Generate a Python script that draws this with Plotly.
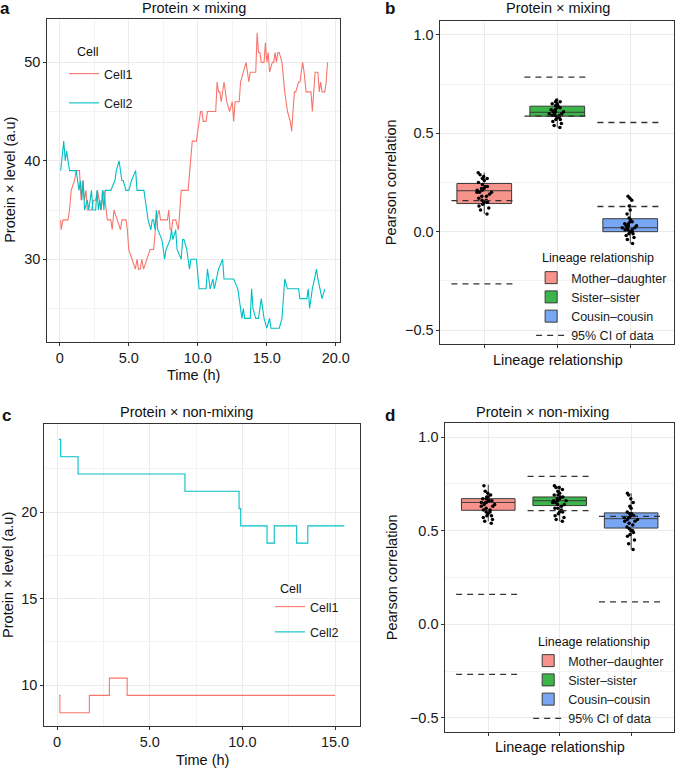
import plotly.graph_objects as go

# ---- panel a: Protein x mixing, time series ----
a_cell1_t = [0.07, 0.1, 0.24, 0.6, 0.71, 0.83, 1.07, 1.19, 1.43, 1.55, 1.67, 1.79, 1.9, 2.0, 2.3, 2.45, 2.6,
             2.74, 2.98, 3.2, 3.45, 3.7, 3.8, 3.93, 4.17, 4.4, 4.5, 4.8, 4.9, 5.0, 5.24, 5.48, 5.6, 5.7, 5.83,
             5.95, 6.07, 6.3, 6.55, 6.8, 6.9, 7.0, 7.2, 7.3, 7.8, 7.9, 8.0, 8.1, 8.2, 8.4, 8.6, 8.7, 8.8, 9.3,
             9.4, 9.5, 9.6, 9.9, 10.1, 10.2, 10.3, 10.4, 10.6, 10.7, 11.3, 11.4, 11.5, 11.6, 11.7, 11.8, 11.9,
             12.1, 12.3, 12.5, 12.6, 12.7, 13.0, 13.1, 13.3, 13.45, 13.5, 13.7, 13.8, 14.2, 14.3, 14.4, 14.5,
             14.6, 14.8, 14.9, 15.0, 15.1, 15.2, 15.4, 15.5, 15.6, 15.7, 15.8, 15.9, 16.1, 16.2, 16.3, 16.4,
             16.5, 16.7, 16.8, 16.9, 17.0, 17.1, 17.3, 17.4, 17.5, 17.6, 17.7, 17.85, 18.2, 18.3, 18.4, 18.5,
             18.7, 18.8, 18.9, 19.0, 19.2, 19.3, 19.4]
a_cell1_v = [34, 33, 34, 34, 35, 37, 38, 39, 39, 36, 38, 36, 37, 35, 35, 36, 36,
             37, 35, 37, 34, 34, 33, 35, 34, 33, 34, 34, 33, 31, 30, 29, 30, 29, 29,
             30, 29, 30, 31, 31, 33, 34, 35, 34, 34, 35, 33, 33, 34, 34, 33, 35, 37, 37,
             39, 40, 42, 42, 44, 45, 45, 44, 44, 45, 45, 48, 47, 47, 46, 47, 48,
             46, 45, 46, 44, 46, 46, 48, 49, 50, 50, 48, 49, 49, 53, 51, 51,
             50, 50, 52, 50, 51, 49, 50, 50, 51, 50, 51, 51, 50, 48, 47, 46,
             45, 44, 43, 45, 47, 47, 48, 48, 49, 50, 49, 47, 47, 45, 47, 49,
             49, 47, 48, 47, 47, 48, 50]
a_cell2_t = [0.07, 0.29, 0.4, 0.5, 0.6, 0.71, 1.19, 1.3, 1.4, 1.5, 1.6, 1.7, 1.8, 2.0, 2.1, 2.3, 2.4, 2.6,
             2.7, 2.8, 2.9, 3.0, 3.1, 3.2, 3.3, 3.45, 3.7, 4.0, 4.1, 4.3, 4.4, 4.5, 4.6, 4.8, 5.0, 5.2, 5.5,
             5.6, 6.1, 6.2, 6.4, 6.6, 6.7, 6.8, 6.9, 7.0, 7.1, 7.4, 7.6, 7.7, 8.0, 8.1, 8.2, 8.4, 8.5, 8.8,
             8.9, 9.0, 9.2, 9.3, 9.4, 9.5, 9.9, 10.1, 10.6, 10.7, 10.9, 11.1, 11.2, 11.5, 11.8, 11.9, 12.6,
             12.9, 13.0, 13.2, 13.3, 13.4, 13.8, 13.9, 14.0, 14.2, 14.4, 14.6, 14.8, 15.0, 15.2, 15.3, 15.9,
             16.1, 16.3, 16.5, 17.3, 17.4, 17.9, 18.0, 18.1, 18.3, 18.6, 18.7, 19.0, 19.2]
a_cell2_v = [39, 42, 40, 41, 40, 39, 39, 38, 37, 38, 36, 38, 35, 36, 35, 37, 35, 35,
             37, 35, 36, 35, 37, 35, 37, 37, 37, 38, 39, 40, 39, 38, 38, 37, 37, 38, 39,
             37, 37, 36, 34, 33, 34, 34, 33, 35, 33, 32, 30, 31, 32, 33, 32, 33, 31, 30,
             32, 32, 31, 30, 29, 30, 30, 27, 27, 29, 27, 28, 27, 29, 30, 28, 28,
             27, 26, 24, 25, 24, 24, 27, 25, 24, 24, 26, 24, 23, 24, 23, 23,
             24, 28, 27, 27, 26, 26, 27, 25, 27, 29, 28, 26, 27]

# ---- panel c: Protein x non-mixing, time series (change points) ----
c_cell1_t = [0.1, 0.15, 1.74, 2.82, 3.78, 15.0]
c_cell1_v = [9.4, 8.4, 9.4, 10.4, 9.4, 9.4]
c_cell2_t = [0.1, 0.19, 1.13, 6.9, 9.82, 9.91, 11.33, 11.72, 12.93, 13.53, 15.5]
c_cell2_v = [24.2, 23.2, 22.2, 21.2, 20.2, 19.2, 18.2, 19.2, 18.2, 19.2, 19.2]

# ---- panels b / d: Pearson correlation by lineage relationship ----
groups = ["Mother–daughter", "Sister–sister", "Cousin–cousin"]
group_fill = ["#F8938B", "#3CB54B", "#79A6F2"]

b_q1 = [0.143, 0.587, 0.0]
b_median = [0.208, 0.607, 0.02]
b_q3 = [0.245, 0.638, 0.066]
b_low = [0.09, 0.53, -0.06]
b_high = [0.30, 0.67, 0.14]
b_ci_low = [-0.265, 0.587, 0.128]
b_ci_high = [0.158, 0.786, 0.555]
b_points = [
    [0.30, 0.29, 0.28, 0.27, 0.27, 0.26, 0.25, 0.24, 0.23, 0.23, 0.22, 0.22, 0.21, 0.21, 0.20,
     0.20, 0.20, 0.19, 0.18, 0.18, 0.17, 0.16, 0.16, 0.15, 0.15, 0.14, 0.13, 0.12, 0.11, 0.09],
    [0.67, 0.66, 0.66, 0.65, 0.65, 0.64, 0.64, 0.63, 0.63, 0.62, 0.62, 0.61, 0.61, 0.61, 0.60,
     0.60, 0.60, 0.59, 0.59, 0.59, 0.58, 0.58, 0.57, 0.57, 0.56, 0.55, 0.54, 0.53],
    [0.18, 0.17, 0.16, 0.13, 0.11, 0.09, 0.07, 0.06, 0.05, 0.05, 0.04, 0.04, 0.03, 0.03, 0.03,
     0.02, 0.02, 0.02, 0.01, 0.01, 0.01, 0.00, 0.00, -0.01, -0.01, -0.02, -0.03, -0.04, -0.06],
]

d_q1 = [0.609, 0.634, 0.514]
d_median = [0.651, 0.66, 0.564]
d_q3 = [0.671, 0.68, 0.595]
d_low = [0.55, 0.55, 0.40]
d_high = [0.746, 0.74, 0.70]
d_ci_low = [-0.267, 0.607, 0.12]
d_ci_high = [0.16, 0.79, 0.576]
d_points = [
    [0.74, 0.71, 0.70, 0.69, 0.68, 0.68, 0.67, 0.67, 0.66, 0.66, 0.66, 0.65, 0.65, 0.65, 0.64,
     0.64, 0.63, 0.63, 0.62, 0.61, 0.61, 0.60, 0.60, 0.59, 0.58, 0.58, 0.57, 0.56, 0.55, 0.54],
    [0.74, 0.73, 0.73, 0.72, 0.71, 0.70, 0.69, 0.69, 0.68, 0.68, 0.67, 0.67, 0.66, 0.66, 0.66,
     0.65, 0.65, 0.64, 0.64, 0.63, 0.62, 0.62, 0.61, 0.60, 0.60, 0.59, 0.58, 0.57, 0.56, 0.55],
    [0.70, 0.69, 0.67, 0.65, 0.63, 0.62, 0.60, 0.59, 0.59, 0.58, 0.58, 0.57, 0.57, 0.57, 0.56,
     0.56, 0.55, 0.55, 0.54, 0.53, 0.52, 0.51, 0.50, 0.50, 0.49, 0.48, 0.47, 0.45, 0.43, 0.40],
]

RED = "#F8766D"
TEAL = "#00BFC4"
FONT = "Liberation Sans, Arial, sans-serif"
W, H = 685, 770
TICK = 14.5
LEG = 12.5

fig = go.Figure()

# time series panels
for t, v, name, col, xa, ya, lg in [
    (a_cell1_t, a_cell1_v, "Cell1", RED, "x", "y", "legend"),
    (a_cell2_t, a_cell2_v, "Cell2", TEAL, "x", "y", "legend"),
    (c_cell1_t, c_cell1_v, "Cell1", RED, "x3", "y3", "legend3"),
    (c_cell2_t, c_cell2_v, "Cell2", TEAL, "x3", "y3", "legend3"),
]:
    fig.add_trace(go.Scatter(
        x=t, y=v, mode="lines", name=name, xaxis=xa, yaxis=ya, legend=lg,
        legendgroup=lg + name,
        line=dict(color=col, width=1.1, shape="hv" if xa == "x3" else "linear"),
    ))

# box panels
panels = [
    ("x2", "y2", "legend2", b_q1, b_median, b_q3, b_low, b_high, b_ci_low, b_ci_high, b_points),
    ("x4", "y4", "legend4", d_q1, d_median, d_q3, d_low, d_high, d_ci_low, d_ci_high, d_points),
]
for xa, ya, lg, q1, med, q3, lo, hi, cil, cih, pts in panels:
    for i, g in enumerate(groups):
        fig.add_trace(go.Box(
            x=[i], q1=[q1[i]], median=[med[i]], q3=[q3[i]],
            lowerfence=[lo[i]], upperfence=[hi[i]],
            name=g, xaxis=xa, yaxis=ya, legend=lg, width=0.75, whiskerwidth=0,
            fillcolor=group_fill[i], line=dict(color="#3a3a3a", width=1),
            boxpoints=False, hoverinfo="skip",
        ))
    for i, g in enumerate(groups):
        fig.add_trace(go.Box(
            x=[i] * len(pts[i]), y=pts[i], xaxis=xa, yaxis=ya, showlegend=False,
            width=0.75, boxpoints="all", jitter=0.3, pointpos=0,
            fillcolor="rgba(0,0,0,0)", line=dict(color="rgba(0,0,0,0)", width=0),
            marker=dict(color="black", size=3.5), hoverinfo="skip",
        ))
    cx, cy = [], []
    for i in range(len(groups)):
        for val in (cil[i], cih[i]):
            cx += [i - 0.45, i + 0.45, None]
            cy += [val, val, None]
    fig.add_trace(go.Scatter(
        x=cx, y=cy, mode="lines", name="95% CI of data", xaxis=xa, yaxis=ya, legend=lg,
        line=dict(color="#333333", width=1.3, dash="6px,5px"), hoverinfo="skip",
    ))

grid = "#EBEBEB"
minor_grid = "#F3F3F3"
frame = dict(showline=True, mirror=True, linecolor="#333333", linewidth=1,
             ticks="outside", ticklen=3, tickcolor="#333333", zeroline=False,
             showgrid=True, gridcolor=grid, gridwidth=0.7,
             tickfont=dict(size=TICK, color="#1a1a1a"))

leg_common = dict(xanchor="left", yanchor="top", bgcolor="rgba(0,0,0,0)", font=dict(size=LEG))

fig.update_layout(
    width=W, height=H,
    margin=dict(l=0, r=0, t=0, b=0),
    paper_bgcolor="white", plot_bgcolor="white",
    font=dict(family=FONT, size=13, color="#1a1a1a"),
    boxmode="overlay",
    xaxis=dict(domain=[48 / W, 345 / W], anchor="y", range=[-0.9, 20.3],
               tickvals=[0, 5, 10, 15, 20], ticktext=["0", "5.0", "10.0", "15.0", "20.0"],
               minor=dict(showgrid=True, gridcolor=minor_grid, tickvals=[2.5, 7.5, 12.5, 17.5]), **frame),
    yaxis=dict(domain=[1 - 342 / H, 1 - 19 / H], anchor="x", range=[21.6, 54.4],
               tickvals=[30, 40, 50],
               minor=dict(showgrid=True, gridcolor=minor_grid, tickvals=[25, 35, 45]), **frame),
    xaxis2=dict(domain=[447 / W, 684 / W], anchor="y2", range=[-0.6, 2.6],
                tickvals=[0, 1, 2], showticklabels=False, **frame),
    yaxis2=dict(domain=[1 - 344 / H, 1 - 21 / H], anchor="x2", range=[-0.571, 1.071],
                tickvals=[-0.5, 0, 0.5, 1.0], ticktext=["−0.5", "0.0", "0.5", "1.0"],
                minor=dict(showgrid=True, gridcolor=minor_grid, tickvals=[-0.25, 0.25, 0.75]), **frame),
    xaxis3=dict(domain=[45 / W, 365 / W], anchor="y3", range=[-0.69, 16.33],
                tickvals=[0, 5, 10, 15], ticktext=["0", "5.0", "10.0", "15.0"],
                minor=dict(showgrid=True, gridcolor=minor_grid, tickvals=[2.5, 7.5, 12.5]), **frame),
    yaxis3=dict(domain=[1 - 726 / H, 1 - 424 / H], anchor="x3", range=[7.63, 25.09],
                tickvals=[10, 15, 20],
                minor=dict(showgrid=True, gridcolor=minor_grid, tickvals=[12.5, 17.5, 22.5]), **frame),
    xaxis4=dict(domain=[452 / W, 684 / W], anchor="y4", range=[-0.6, 2.6],
                tickvals=[0, 1, 2], showticklabels=False, **frame),
    yaxis4=dict(domain=[1 - 732 / H, 1 - 423 / H], anchor="x4", range=[-0.575, 1.075],
                tickvals=[-0.5, 0, 0.5, 1.0], ticktext=["−0.5", "0.0", "0.5", "1.0"],
                minor=dict(showgrid=True, gridcolor=minor_grid, tickvals=[-0.25, 0.25, 0.75]), **frame),
    # legend titles are separate annotations, so each legend box starts at its first item
    legend=dict(x=65 / W, y=1 - 59 / H, traceorder="grouped", tracegroupgap=10, **leg_common),
    legend3=dict(x=274 / W, y=1 - 592 / H, traceorder="grouped", tracegroupgap=6, **leg_common),
    legend2=dict(x=539 / W, y=1 - 263 / H, **leg_common),
    legend4=dict(x=536 / W, y=1 - 646 / H, **leg_common),
)

# white legend backgrounds (titles included), drawn over the grid but under the data
for x0, y0, x1, y1 in [(70, 42, 150, 114), (278, 579, 348, 644),
                       (542, 248, 680, 346), (538, 632, 676, 730)]:
    fig.add_shape(type="rect", xref="paper", yref="paper", layer="between",
                  x0=x0 / W, x1=x1 / W, y0=1 - y1 / H, y1=1 - y0 / H,
                  fillcolor="white", line=dict(width=0))

annotations = [
    # panel letters
    ("a", 5, 9, 17, True, 0, "center"), ("b", 396, 9, 17, True, 0, "center"),
    ("c", 7, 416, 17, True, 0, "center"), ("d", 396, 415, 17, True, 0, "center"),
    # panel titles
    ("Protein × mixing", 197, 8, TICK, False, 0, "center"), ("Protein × mixing", 566, 8, TICK, False, 0, "center"),
    ("Protein × non-mixing", 189, 412, TICK, False, 0, "center"),
    ("Protein × non-mixing", 551, 412, TICK, False, 0, "center"),
    # axis titles
    ("Time (h)", 196, 375, TICK, False, 0, "center"), ("Lineage relationship", 566, 360, TICK, False, 0, "center"),
    ("Time (h)", 205, 760, TICK, False, 0, "center"), ("Lineage relationship", 568, 747, TICK, False, 0, "center"),
    ("Protein × level (a.u)", 10, 180, TICK, False, -90, "center"),
    ("Pearson correlation", 397, 182, TICK, False, -90, "center"),
    ("Protein × level (a.u)", 8, 575, TICK, False, -90, "center"),
    ("Pearson correlation", 398, 577, TICK, False, -90, "center"),
    # legend titles
    ("Cell", 76, 52, LEG, False, 0, "left"), ("Cell", 282, 589, LEG, False, 0, "left"),
    ("Lineage relationship", 548, 258, LEG, False, 0, "left"),
    ("Lineage relationship", 544, 642, LEG, False, 0, "left"),
]
for text, px, py, size, bold, ang, anchor in annotations:
    fig.add_annotation(
        text=f"<b>{text}</b>" if bold else text, xref="paper", yref="paper",
        x=px / W, y=1 - py / H, xanchor=anchor, yanchor="middle", showarrow=False,
        textangle=ang, font=dict(size=size, family=FONT, color="#111111"),
    )

# the page's default body margin would push the 685x770 figure 8px off the window
fig.write_html("out.html", config={"displayModeBar": False},
               post_script="document.body.style.margin = '0';")
